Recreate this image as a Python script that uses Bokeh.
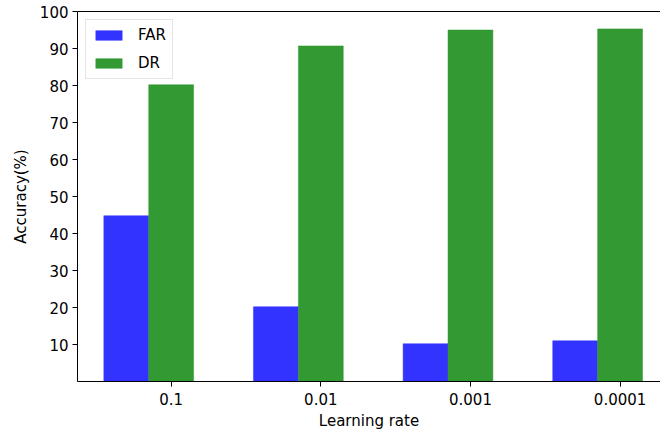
import numpy as np
from bokeh.plotting import figure
from bokeh.models import ColumnDataSource, FixedTicker, LinearAxis, Range1d
from bokeh.embed import file_html
from bokeh.resources import INLINE

categories = ["0.1", "0.01", "0.001", "0.0001"]
far = [44.8, 20.2, 10.2, 11.0]
dr = [80.2, 90.7, 95.0, 95.3]
y_ticks = [10, 20, 30, 40, 50, 60, 70, 80, 90, 100]

bar_w = 0.3
idx = np.arange(len(categories))

FONT = "DejaVu Sans"
FS = "15px"

p = figure(width=660, height=433, output_backend="svg", toolbar_location=None,
           x_range=Range1d(-0.626, 3.27), y_range=Range1d(0, 100),
           min_border_left=77, min_border_right=0, min_border_top=11, min_border_bottom=52)
p.outline_line_color = None
p.xgrid.visible = False
p.ygrid.visible = False
p.background_fill_color = "white"
p.border_fill_color = "white"

src_far = ColumnDataSource(dict(x=idx - bar_w, top=far))
src_dr = ColumnDataSource(dict(x=idx, top=dr))
p.vbar(x="x", top="top", width=bar_w, source=src_far, fill_color="#3333ff",
       line_color="#3333ff", line_width=0.5, legend_label="FAR")
p.vbar(x="x", top="top", width=bar_w, source=src_dr, fill_color="#339933",
       line_color="#339933", line_width=0.5, legend_label="DR")

for ax in (p.xaxis[0], p.yaxis[0]):
    ax.major_tick_in = 0
    ax.major_tick_out = 5
    ax.minor_tick_line_color = None
    ax.axis_line_color = "black"
    ax.major_tick_line_color = "black"
    ax.major_label_text_font = FONT
    ax.major_label_text_font_size = FS
    ax.major_label_text_color = "black"
    ax.axis_label_text_font = FONT
    ax.axis_label_text_font_size = FS
    ax.axis_label_text_font_style = "normal"
    ax.axis_label_text_color = "black"
    ax.major_label_standoff = 4

p.xaxis.ticker = FixedTicker(ticks=list(idx))
p.xaxis.major_label_overrides = {int(i): c for i, c in zip(idx, categories)}
p.xaxis.axis_label = "Learning rate"
p.xaxis.major_label_standoff = 6
p.xaxis.axis_label_standoff = 4
p.yaxis.ticker = FixedTicker(ticks=y_ticks)
p.yaxis.axis_label = "Accuracy(%)"
p.yaxis.axis_label_standoff = 7

top_axis = LinearAxis(major_tick_line_color=None, minor_tick_line_color=None,
                      major_label_text_font_size="0px", axis_line_color="black",
                      ticker=FixedTicker(ticks=[]))
p.add_layout(top_axis, "above")

lg = p.legend[0]
lg.location = "top_left"
lg.margin = 8
lg.padding = 6
lg.spacing = 10
lg.glyph_width = 33
lg.glyph_height = 12
lg.label_height = 12
lg.label_standoff = 13
lg.label_text_font = FONT
lg.label_text_font_size = FS
lg.label_text_color = "black"
lg.border_line_color = "#cccccc"
lg.background_fill_alpha = 0.8

open("out.html", "w").write(file_html(p, INLINE))
